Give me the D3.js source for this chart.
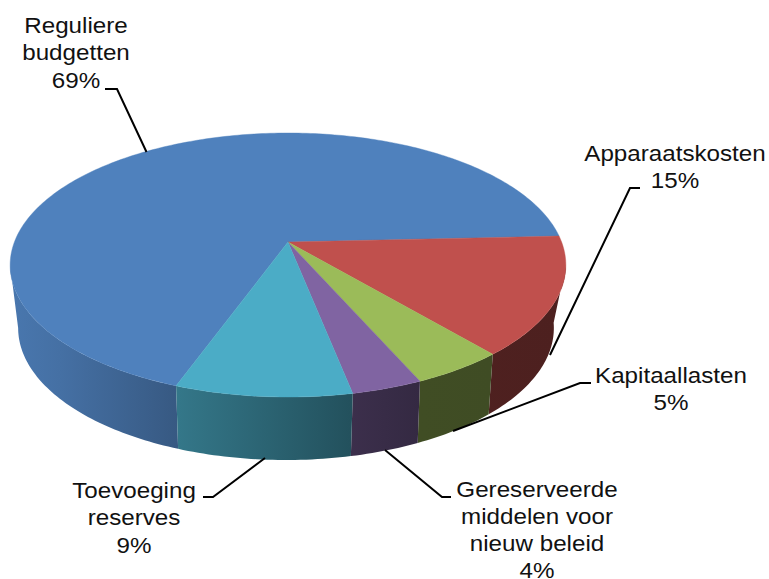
<!DOCTYPE html>
<html>
<head>
<meta charset="utf-8">
<script src="https://cdnjs.cloudflare.com/ajax/libs/d3/7.8.5/d3.min.js"></script>
<style>
  html, body { margin: 0; padding: 0; background: #fff; }
  svg { display: block; }
  text { font-family: "Liberation Sans", Arial, sans-serif; font-size: 21.6px; fill: #111; text-anchor: middle; }
</style>
</head>
<body>
<svg class="chart" width="769" height="579"></svg>
<script>
// values, the labels show them rounded
const categories = ['Reguliere budgetten', 'Apparaatskosten', 'Kapitaallasten', 'Gereserveerde middelen voor nieuw beleid', 'Toevoeging reserves'];
const shares = [68.7, 14.5, 4.6, 3.5, 8.7];
const colours = ['#4f81bd', '#c0504d', '#9bbb59', '#8064a2', '#4bacc6'];

// label lines and leader lines, same order as categories
const labelLines = [
  ['Reguliere', 'budgetten'],
  ['Apparaatskosten'],
  ['Kapitaallasten'],
  ['Gereserveerde', 'middelen voor', 'nieuw beleid'],
  ['Toevoeging', 'reserves']
];
const labelPos = [[76, 33], [675, 160.5], [671, 383], [537, 496.5], [134, 498]];
const leaders = [
  [[105, 89], [117, 89], [146.5, 152]],
  [[640, 188], [630, 188], [550, 355]],
  [[591, 383], [580, 383], [453, 431]],
  [[451, 497], [442, 497], [385, 450]],
  [[203, 497], [213, 497], [265, 458]]
];
const lineHeight = 27.3;
const textStretch = 1.12; // the reference text is a bit wider than the font

// 3d pie set up: apex, radii and perspective of the top face
const apex = [288, 242];
const radX = 273.6, radY = 128, persp = 0.1743;
const rad = d => d * Math.PI / 180;

// bottom rim is a smaller ellipse, a little to the left of the top one
const topMid = [288, 265], bottomMid = [286, 328], bottomScaleX = 268 / 278;
const rimSkew = rad(2.3);

const svg = d3.select('svg.chart');
const defs = svg.append('defs');

// wall shading goes darker from left to right
const shade = d3.scaleLinear().domain([10, 60, 178, 350, 420, 565]).range([0.92, 0.87, 0.69, 0.47, 0.41, 0.4]);

function project(theta) {
  const u = Math.cos(theta), v = Math.sin(theta), w = 1 - persp * v;
  return [apex[0] + radX * u / w, apex[1] + radY * v / w];
}
function projectBottom(theta) {
  const p = project(theta - rimSkew * Math.max(Math.cos(theta), 0));
  return [bottomMid[0] + (p[0] - topMid[0]) * bottomScaleX, bottomMid[1] + (p[1] - topMid[1])];
}
function rim(a0, a1, fn) {
  const n = Math.max(2, Math.ceil(Math.abs(a1 - a0) / rad(1)));
  return d3.range(n + 1).map(i => fn(a0 + (a1 - a0) * i / n));
}

const pie = d3.pie().sort(null)
  .startAngle(rad(200))
  .endAngle(rad(200 + 360));
const arcs = pie(shares).map(d => {
  let t0 = d.startAngle - Math.PI / 2, t1 = d.endAngle - Math.PI / 2;
  // slices past the back of the pie wrap round to the front
  if (t0 >= rad(355)) { t0 -= 2 * Math.PI; t1 -= 2 * Math.PI; }
  return { ...d, t0, t1 };
});

const line = d3.line();

// side walls first, tops go over them. Walls stop where the rim turns away
const front0 = rad(10), front1 = rad(170);
const walls = svg.append('g').attr('class', 'walls');
arcs.forEach((d, i) => {
  const t0 = Math.max(d.t0, front0), t1 = Math.min(d.t1, front1);
  if (t1 <= t0) return;
  const grad = defs.append('linearGradient')
    .attr('id', 'wall' + i)
    .attr('gradientUnits', 'userSpaceOnUse')
    .attr('x1', 0).attr('x2', 769).attr('y1', 0).attr('y2', 0);
  shade.domain().forEach(x => {
    const base = d3.rgb(colours[i]), k = shade(x);
    grad.append('stop')
      .attr('offset', x / 769)
      .attr('stop-color', d3.rgb(base.r * k, base.g * k, base.b * k).formatHex());
  });
  const pts = rim(t0, t1, project).concat(rim(t1, t0, projectBottom));
  walls.append('path')
    .attr('d', line(pts) + 'Z')
    .attr('fill', `url(#wall${i})`);
});

svg.append('g').attr('class', 'tops')
  .selectAll('path')
  .data(arcs)
  .join('path')
  .attr('d', d => line([apex].concat(rim(d.t0, d.t1, project))) + 'Z')
  .attr('fill', (d, i) => colours[i])
  .attr('stroke', (d, i) => colours[i])
  .attr('stroke-width', 0.4);

// leader lines
svg.append('g').attr('class', 'leaders')
  .selectAll('path')
  .data(leaders)
  .join('path')
  .attr('d', d => line(d))
  .attr('fill', 'none')
  .attr('stroke', '#000')
  .attr('stroke-width', 2);

// labels, name lines and then the percentage
const labels = svg.append('g').attr('class', 'labels')
  .selectAll('text')
  .data(categories)
  .join('text')
  .attr('transform', (d, i) => `translate(${labelPos[i][0]},${labelPos[i][1]}) scale(${textStretch},1)`);
labels.selectAll('tspan')
  .data((d, i) => labelLines[i].concat(Math.round(shares[i]) + '%'))
  .join('tspan')
  .attr('x', 0)
  .attr('y', (d, i) => i * lineHeight)
  .text(d => d);
</script>
</body>
</html>
